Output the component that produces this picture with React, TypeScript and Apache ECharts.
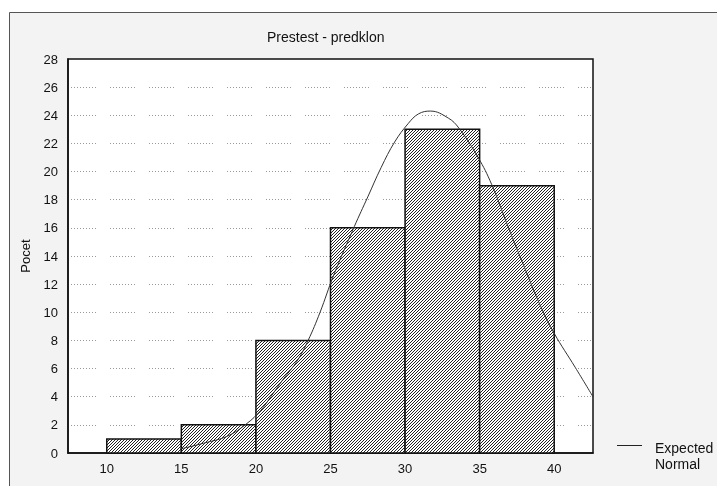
import React, { useEffect, useRef } from "react";
import * as echarts from "echarts";

const binStarts = [10, 15, 20, 25, 30, 35];
const binEnds = [15, 20, 25, 30, 35, 40];
const counts = [1, 2, 8, 16, 23, 19];

const curveX = [15, 16.5, 18.1, 19.4, 20.3, 21.0, 21.8, 22.8, 23.5, 24.3, 25.2, 26.6, 27.5, 28.4, 29.3, 30.2, 30.9, 31.7, 32.9, 33.6, 34.9, 35.8, 36.9, 38.0, 39.1, 40.0, 41.4, 42.6];
const curveY = [0.3, 0.7, 1.2, 2.1, 3.0, 4.0, 5.2, 6.6, 8.0, 10.0, 12.6, 16.1, 18.2, 20.3, 22.1, 23.4, 24.1, 24.3, 23.8, 23.1, 21.0, 19.1, 16.1, 13.2, 10.4, 8.5, 6.1, 4.0];

const xTicks = [10, 15, 20, 25, 30, 35, 40];
const titleText = "Prestest - predklon";
const yName = "Pocet";
const legendLines = ["Expected", "Normal"];

const FONT = "'Liberation Sans', Arial, sans-serif";

export default function App() {
  const ref = useRef<HTMLDivElement>(null);
  useEffect(() => {
    if (!ref.current) return;
    const chart = echarts.init(ref.current, undefined, { renderer: "svg" });

    const cv = document.createElement("canvas");
    cv.width = 3;
    cv.height = 3;
    const ctx = cv.getContext("2d")!;
    ctx.fillStyle = "#ffffff";
    ctx.fillRect(0, 0, 3, 3);
    ctx.fillStyle = "#222222";
    ctx.fillRect(2, 0, 1, 1);
    ctx.fillRect(1, 1, 1, 1);
    ctx.fillRect(0, 2, 1, 1);
    const pattern: any = { image: cv, repeat: "repeat", imageWidth: 3, imageHeight: 3 };

    const histData = binStarts.map((s, i) => [s, binEnds[i], counts[i]]);
    const curveData = curveX.map((x, i) => [x, curveY[i]]);

    const gridColors: string[] = [];
    for (let v = 0; v <= 28; v += 2) gridColors.push(v === 0 || v === 28 ? "rgba(0,0,0,0)" : "#9a9a9a");
    const dots: number[] = [];
    for (let i = 0; i < 8; i++) dots.push(1, 2);
    dots.push(1, 14);

    chart.setOption({
      animation: false,
      textStyle: { fontFamily: FONT },
      title: {
        text: titleText,
        left: 262,
        top: 25,
        textStyle: { fontSize: 14, fontWeight: "normal", color: "#111", fontFamily: FONT },
      },
      grid: {
        left: 68,
        top: 59,
        right: 124,
        bottom: 33,
        show: true,
        backgroundColor: "#ffffff",
        borderColor: "#111",
        borderWidth: 1.5,
      },
      xAxis: {
        type: "value",
        min: 7.4,
        max: 42.6,
        axisLine: { show: true, lineStyle: { color: "#111", width: 1.5 } },
        axisTick: { show: false },
        splitLine: { show: false },
        axisLabel: {
          customValues: xTicks,
          color: "#111",
          fontSize: 13,
          margin: 9,
          fontFamily: FONT,
        },
      },
      yAxis: {
        type: "value",
        min: 0,
        max: 28,
        interval: 2,
        name: yName,
        nameLocation: "middle",
        nameGap: 36,
        nameTextStyle: { color: "#111", fontSize: 13, fontFamily: FONT },
        axisLine: { show: true, lineStyle: { color: "#111", width: 1.5 } },
        axisTick: { show: false },
        axisLabel: { color: "#111", fontSize: 13, margin: 10, fontFamily: FONT },
        splitLine: {
          show: true,
          lineStyle: { color: gridColors, width: 1, type: dots, dashOffset: 36 },
        },
      },
      graphic: [
        {
          type: "rect",
          z: -100,
          silent: true,
          shape: { x: 9.5, y: 12.5, width: 800, height: 600 },
          style: { fill: "#f3f3f3", stroke: "#555", lineWidth: 1 },
        },
        {
          type: "line",
          shape: { x1: 617, y1: 445.5, x2: 642, y2: 445.5 },
          style: { stroke: "#222", lineWidth: 1 },
        },
        {
          type: "text",
          x: 655,
          y: 440,
          style: {
            text: legendLines.join("\n"),
            fill: "#111",
            fontSize: 14,
            fontFamily: FONT,
            lineHeight: 16,
          },
        },
      ],
      series: [
        {
          type: "custom",
          data: histData,
          encode: { x: [0, 1], y: 2 },
          z: 2,
          renderItem: (params: any, api: any) => {
            const p0 = api.coord([api.value(0), 0]);
            const p1 = api.coord([api.value(1), api.value(2)]);
            return {
              type: "rect",
              shape: { x: p0[0], y: p1[1], width: p1[0] - p0[0], height: p0[1] - p1[1] },
              style: { fill: pattern, stroke: "#111", lineWidth: 1.5 },
            };
          },
        },
        {
          type: "line",
          data: curveData,
          smooth: 0.4,
          showSymbol: false,
          z: 5,
          lineStyle: { color: "#333", width: 1 },
        },
      ],
    });
    return () => chart.dispose();
  }, []);
  return (
    <div
      ref={ref}
      style={{ position: "fixed", left: 0, top: 0, width: 717, height: 486 }}
    />
  );
}
